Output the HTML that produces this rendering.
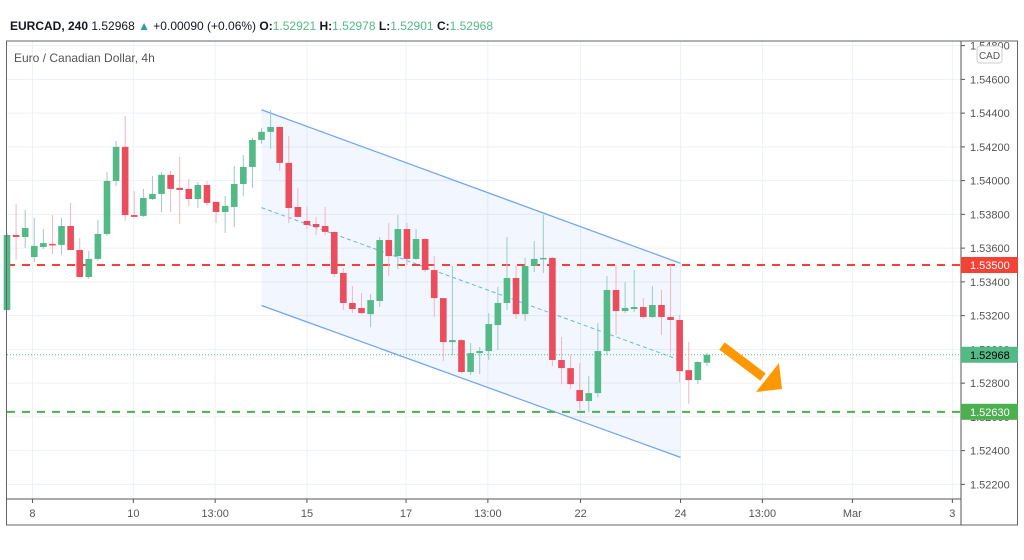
<!DOCTYPE html>
<html><head><meta charset="utf-8">
<style>
body{margin:0;background:#fff;width:1024px;height:560px;overflow:hidden;font-family:"Liberation Sans",sans-serif}
svg{display:block}
</style></head>
<body>
<svg id="chart" width="1024" height="560" viewBox="0 0 1024 560" xmlns="http://www.w3.org/2000/svg">
<g id="grid"></g>
<g id="channel"></g>
<g id="levels"></g>
<g id="candles"></g>
<g id="axes"></g>
<text x="10" y="30" font-size="12" fill="#131722"><tspan font-weight="bold">EURCAD, 240</tspan> 1.52968 <tspan fill="#26a69a">▲</tspan> +0.00090 (+0.06%) <tspan font-weight="bold">O:</tspan><tspan fill="#53b987">1.52921</tspan> <tspan font-weight="bold">H:</tspan><tspan fill="#53b987">1.52978</tspan> <tspan font-weight="bold">L:</tspan><tspan fill="#53b987">1.52901</tspan> <tspan font-weight="bold">C:</tspan><tspan fill="#53b987">1.52968</tspan></text>
<text x="14" y="62" font-size="12" fill="#555">Euro / Canadian Dollar, 4h</text>
<g>
<line x1="722" y1="346" x2="763" y2="377" stroke="#ff9800" stroke-width="9"/>
<polygon points="779,363 782,389 756,392" fill="#ff9800"/>
</g>
</svg>
<script>
const opens=[1.53233,1.53678,1.53666,1.53547,1.53607,1.53625,1.53619,1.53731,1.53589,1.53429,1.53536,1.53684,1.53998,1.54200,1.53796,1.53791,1.53891,1.53921,1.54034,1.53957,1.53951,1.53891,1.53974,1.53874,1.53814,1.53844,1.53980,1.54081,1.54241,1.54289,1.54318,1.54105,1.53844,1.53761,1.53743,1.53731,1.53696,1.53453,1.53275,1.53245,1.53209,1.53287,1.53648,1.53553,1.53713,1.53536,1.53654,1.53470,1.53304,1.53043,1.53055,1.52866,1.52978,1.52990,1.53144,1.53275,1.53423,1.53209,1.53494,1.53536,1.53542,1.52937,1.52889,1.52759,1.52694,1.52741,1.52990,1.53352,1.53227,1.53239,1.53251,1.53192,1.53263,1.53192,1.53174,1.52877,1.52818,1.52921];
const closes=[1.53678,1.53666,1.53719,1.53613,1.53630,1.53619,1.53731,1.53589,1.53429,1.53536,1.53684,1.53998,1.54200,1.53796,1.53785,1.53897,1.53921,1.54034,1.53951,1.53945,1.53891,1.53974,1.53868,1.53814,1.53850,1.53980,1.54081,1.54241,1.54289,1.54318,1.54105,1.53838,1.53785,1.53737,1.53725,1.53696,1.53447,1.53275,1.53239,1.53215,1.53292,1.53648,1.53553,1.53713,1.53536,1.53654,1.53470,1.53304,1.53043,1.53055,1.52866,1.52978,1.52990,1.53150,1.53275,1.53423,1.53209,1.53494,1.53536,1.53542,1.52937,1.52889,1.52794,1.52694,1.52741,1.52990,1.53352,1.53227,1.53245,1.53251,1.53192,1.53263,1.53192,1.53174,1.52871,1.52818,1.52925,1.52968];
const highs=[1.53690,1.53862,1.53826,1.53779,1.53713,1.53796,1.53779,1.53868,1.53660,1.53583,1.53767,1.54051,1.54235,1.54384,1.53939,1.53951,1.54028,1.54051,1.54057,1.54140,1.54010,1.53992,1.53998,1.53874,1.53909,1.54087,1.54152,1.54253,1.54312,1.54419,1.54318,1.54265,1.53957,1.53844,1.53785,1.53844,1.53696,1.53482,1.53375,1.53334,1.53328,1.53666,1.53749,1.53796,1.53749,1.53713,1.53660,1.53553,1.53304,1.53494,1.53061,1.53037,1.53014,1.53215,1.53370,1.53666,1.53494,1.53542,1.53642,1.53796,1.53547,1.53073,1.52966,1.52919,1.52842,1.53156,1.53435,1.53500,1.53399,1.53470,1.53304,1.53375,1.53352,1.53500,1.53204,1.53043,1.52931,1.52978];
const lows=[1.53233,1.53530,1.53601,1.53518,1.53595,1.53565,1.53559,1.53589,1.53429,1.53417,1.53524,1.53672,1.53968,1.53761,1.53785,1.53785,1.53885,1.53814,1.53814,1.53743,1.53850,1.53838,1.53850,1.53749,1.53690,1.53725,1.53909,1.53957,1.54218,1.54188,1.54057,1.53749,1.53785,1.53713,1.53678,1.53678,1.53429,1.53233,1.53215,1.53209,1.53132,1.53251,1.53435,1.53476,1.53500,1.53530,1.53458,1.53192,1.52931,1.52966,1.52860,1.52848,1.52854,1.52937,1.52996,1.53233,1.53180,1.53168,1.53458,1.53453,1.52901,1.52794,1.52765,1.52640,1.52628,1.52717,1.52966,1.53085,1.53215,1.53221,1.53180,1.53186,1.53085,1.52978,1.52806,1.52676,1.52794,1.52901];
const priceTicks=[1.548,1.546,1.544,1.542,1.540,1.538,1.536,1.534,1.532,1.530,1.528,1.526,1.524,1.522];
const timeLabels=["8","10","13:00","15","17","13:00","22","24","13:00","Mar","3"];
const timeIdx=[2.8,13.9,22.9,33,43.9,52.9,63.1,74.1,83.1,93,104];
const resistance=1.535, support=1.5263, lastPrice=1.52968;
const chanTop=[28.0,1.5442,74.1,1.5351];
const chanBot=[28.0,1.5326,74.1,1.5236];

const NS="http://www.w3.org/2000/svg";
const L=7,R=961,T=41,B=499;
const y=p=>265+(1.535-p)/0.002*33.75;
const x=i=>7+i*9.09;
function mk(tag,attrs,parent){const e=document.createElementNS(NS,tag);for(const k in attrs)e.setAttribute(k,attrs[k]);parent.appendChild(e);return e;}
const grid=document.getElementById('grid'),axes=document.getElementById('axes'),cg=document.getElementById('candles'),lv=document.getElementById('levels'),ch=document.getElementById('channel');
priceTicks.forEach(p=>{
 const gl=mk('line',{x1:L,x2:R,y1:y(p),y2:y(p),stroke:'#edf1f6','stroke-width':1},grid);
 
 
 mk('line',{x1:R,x2:R+4,y1:y(p),y2:y(p),stroke:'#555'},axes);
 const t=mk('text',{x:R+9,y:y(p)+4,'font-size':11,fill:'#555'},axes);t.textContent=p.toFixed(5);
 
 
});
timeLabels.forEach((s,k)=>{
 const xx=x(timeIdx[k]);
 const gl=mk('line',{x1:xx,x2:xx,y1:T,y2:B,stroke:'#edf1f6'},grid);
 
 
 mk('line',{x1:xx,x2:xx,y1:B,y2:B+4,stroke:'#555'},axes);
 const t=mk('text',{x:xx,y:517,'font-size':11,fill:'#555','text-anchor':'middle'},axes);t.textContent=s;
 
 
});
const tp=[x(chanTop[0]),y(chanTop[1]),x(chanTop[2]),y(chanTop[3])];
const bp=[x(chanBot[0]),y(chanBot[1]),x(chanBot[2]),y(chanBot[3])];
const poly=mk('polygon',{points:`${tp[0]},${tp[1]} ${tp[2]},${tp[3]} ${bp[2]},${bp[3]} ${bp[0]},${bp[1]}`,fill:'rgba(33,110,243,0.06)'},ch);


const l1=mk('line',{x1:tp[0],y1:tp[1],x2:tp[2],y2:tp[3],stroke:'#6fa3f2','stroke-width':1.2},ch);


const l2=mk('line',{x1:bp[0],y1:bp[1],x2:bp[2],y2:bp[3],stroke:'#6fa3f2','stroke-width':1.2},ch);


const l3=mk('line',{x1:tp[0],y1:(tp[1]+bp[1])/2,x2:tp[2],y2:(tp[3]+bp[3])/2,stroke:'#64b5f6','stroke-width':1,'stroke-dasharray':'4 3'},ch);


const rl=mk('line',{x1:L,x2:R,y1:y(resistance),y2:y(resistance),stroke:'#f44336','stroke-width':2,'stroke-dasharray':'8 7'},lv);


const sl=mk('line',{x1:L,x2:R,y1:y(support),y2:y(support),stroke:'#4caf50','stroke-width':2,'stroke-dasharray':'8 7'},lv);


const pl=mk('line',{x1:L,x2:R,y1:y(lastPrice),y2:y(lastPrice),stroke:'#53b987','stroke-width':1,'stroke-dasharray':'1 2'},lv);


opens.forEach((o,i)=>{
 const c=closes[i],up=c>=o,col=up?'#53b987':'#eb4d5c',wc=up?'#9fc9c4':'#f3b6bd';
 const g=mk('g',{},cg);
 
 
 mk('line',{x1:x(i),x2:x(i),y1:y(highs[i]),y2:y(lows[i]),stroke:wc,'stroke-width':1},g);
 const top=y(Math.max(o,c)),h=Math.max(1.5,Math.abs(y(o)-y(c)));
 mk('rect',{x:x(i)-3.3,y:top,width:6.6,height:h,fill:col},g);
});
mk('rect',{x:6.5,y:T,width:1011,height:484,fill:'none',stroke:'#666'},axes);
mk('line',{x1:R,x2:R,y1:T,y2:525,stroke:'#555'},axes);
mk('line',{x1:6.5,x2:R,y1:B,y2:B,stroke:'#555'},axes);
function tag(p,fill,tc,name){
 const g=mk('g',{},axes);
 
 
 mk('rect',{x:R,y:y(p)-8,width:57,height:16,fill:fill},g);
 const t=mk('text',{x:R+9,y:y(p)+4,'font-size':11,fill:tc},g);t.textContent=p.toFixed(5);
}
tag(resistance,'#f44336','#fff','resistance-price-label');
tag(lastPrice,'#53b987','#000','last-price-label');
tag(support,'#4caf50','#fff','support-price-label');
const cb=mk('rect',{x:977,y:46,width:25,height:17,rx:3,fill:'#fff',stroke:'#ccc'},axes);


const ct=mk('text',{x:989.5,y:59,'font-size':10,fill:'#555','text-anchor':'middle'},axes);ct.textContent='CAD';
</script>
</body></html>
